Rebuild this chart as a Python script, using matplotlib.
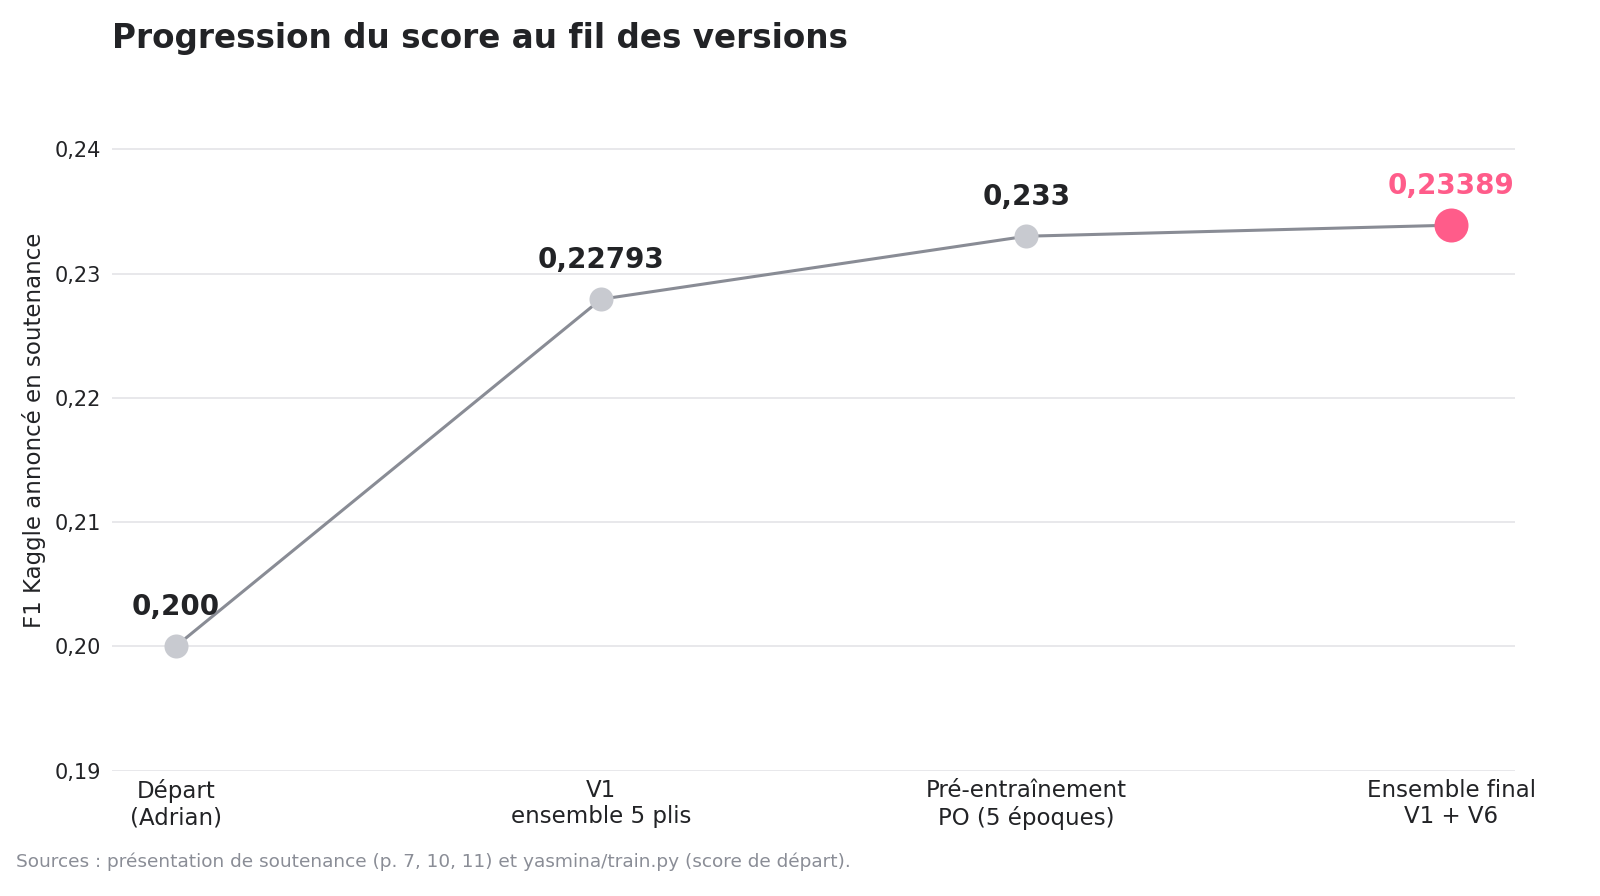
import matplotlib.pyplot as plt
from matplotlib.ticker import FuncFormatter

versions = ['Départ\n(Adrian)', 'V1\nensemble 5 plis',
            'Pré-entraînement\nPO (5 époques)', 'Ensemble final\nV1 + V6']
scores = [0.200, 0.22793, 0.233, 0.23389]
labels = ['0,200', '0,22793', '0,233', '0,23389']
yticks = [0.19, 0.20, 0.21, 0.22, 0.23, 0.24]

dark = '#222326'
pink = '#ff5c8a'
x = list(range(len(scores)))

fig, ax = plt.subplots(figsize=(16, 8.96), dpi=100)
fig.subplots_adjust(left=0.07, right=0.947, top=0.90, bottom=0.14)

ax.plot(x, scores, color='#898c95', lw=2.2, zorder=2)
ax.scatter(x[:-1], scores[:-1], s=300, color='#c8cad0', zorder=3, linewidths=0)
ax.scatter(x[-1:], scores[-1:], s=600, color=pink, zorder=3, linewidths=0)

for i, (v, lab) in enumerate(zip(scores, labels)):
    c = pink if i == len(scores) - 1 else dark
    ax.annotate(lab, (i, v), xytext=(0, 28), textcoords='offset points',
                ha='center', va='center', fontsize=20, fontweight='bold', color=c)

ax.set_xlim(-0.15, 3.15)
ax.set_ylim(0.19, 0.2448)
ax.set_yticks(yticks)
ax.yaxis.set_major_formatter(FuncFormatter(lambda v, p: f'{v:.2f}'.replace('.', ',')))
ax.set_xticks(x)
ax.set_xticklabels(versions, fontsize=16.5, color=dark)
ax.tick_params(axis='y', labelsize=15, labelcolor=dark, length=0, pad=8)
ax.tick_params(axis='x', length=0, pad=6)
ax.grid(axis='y', color='#e4e4e7', lw=1.2)
ax.set_axisbelow(True)
for s in ax.spines.values():
    s.set_visible(False)

ax.set_ylabel('F1 Kaggle annoncé en soutenance', fontsize=16.5, color=dark)
ax.yaxis.set_label_coords(-0.047, 0.5)
fig.text(0.07, 0.957, 'Progression du score au fil des versions',
         fontsize=23.5, fontweight='bold', color=dark, ha='left', va='center')
fig.text(0.01, 0.038, 'Sources : présentation de soutenance (p. 7, 10, 11) et yasmina/train.py (score de départ).',
         fontsize=13.3, color='#8a8d96', ha='left', va='center')

plt.savefig('out.png')
